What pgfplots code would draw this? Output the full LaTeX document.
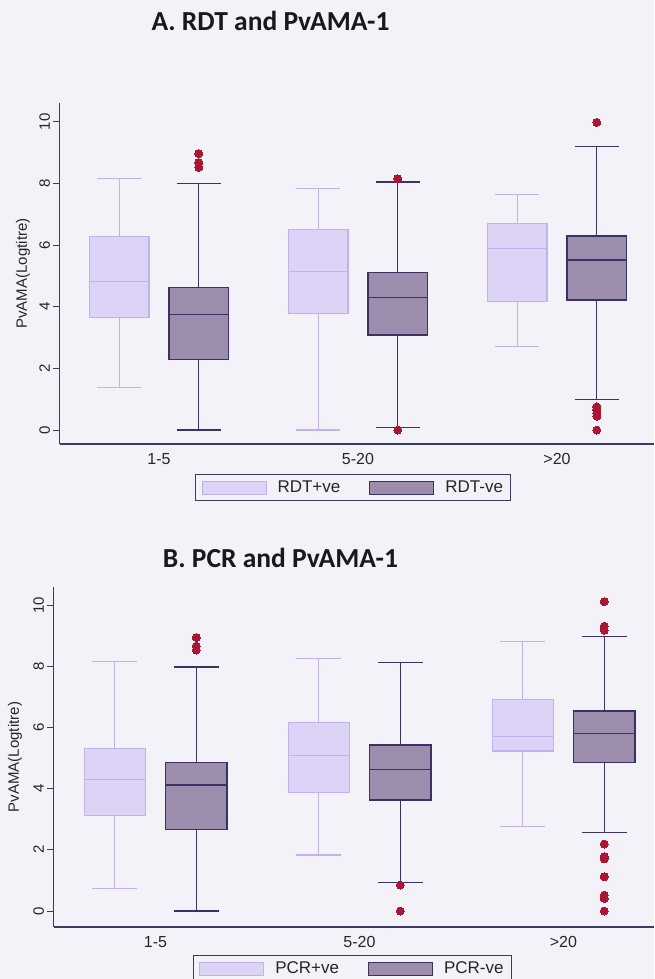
\documentclass[border=0pt]{standalone}
\usepackage{pgfplots}
\pgfplotsset{compat=1.18}
\usepgfplotslibrary{statistics}
\usepackage{fontspec}
\setmainfont{Liberation Sans}
\newfontfamily\titlefont{Carlito}
\definecolor{bg}{RGB}{243,242,248}
\definecolor{lfill}{RGB}{220,211,246}
\definecolor{ledge}{RGB}{192,178,234}
\definecolor{dfill}{RGB}{156,141,172}
\definecolor{dedge}{RGB}{58,50,98}
\definecolor{outl}{RGB}{170,22,52}
\definecolor{axc}{RGB}{60,58,105}
\pgfplotsset{
 lightbox/.style={forget plot, solid, draw=ledge, line width=1.1pt, fill=lfill, mark=none,
   boxplot/draw direction=y, boxplot/box extend=0.3, boxplot/whisker extend=0.22},
 darkbox/.style={forget plot, solid, draw=dedge, line width=1.4pt, fill=dfill, mark=*, mark size=4pt,
   mark options={draw=outl, fill=outl, line width=0pt},
   boxplot/draw direction=y, boxplot/box extend=0.3, boxplot/whisker extend=0.22},
 common/.style={scale only axis, axis lines*=left,
   axis line style={draw=axc, line width=1.1pt},
   xtick={1,2,3}, xtick style={draw=none},
   ytick={0,2,4,6,8,10}, ytick style={draw=axc, line width=0.9pt},
   tick align=outside, major tick length=6pt,
   yticklabel style={rotate=90, anchor=south, font=\fontsize{15}{15}\selectfont, text=black!85},
   xticklabel style={font=\fontsize{16}{16}\selectfont, text=black!85},
   /pgf/number format/assume math mode=true,
   ylabel={PvAMA(Logtitre)},
   ylabel style={font=\fontsize{15}{15}\selectfont, anchor=center, text=black!85},
   legend columns=2,
   legend cell align=left,
   legend style={draw=axc, line width=1pt, fill=bg, font=\fontsize{17}{17}\selectfont,
     inner xsep=6pt, inner ysep=4.5pt, anchor=north west, text=black!85,
     /tikz/every even column/.append style={column sep=27pt}},
 },
 lleg/.style={legend image code/.code={\draw[draw=ledge, fill=lfill, line width=1pt] (0pt,-6.5pt) rectangle (64pt,6.5pt);}},
 dleg/.style={legend image code/.code={\draw[draw=dedge, fill=dfill, line width=1pt] (0pt,-6.5pt) rectangle (64pt,6.5pt);}},
}
\begin{document}
\begin{tikzpicture}[x=1pt,y=1pt]
\useasboundingbox (0,0) rectangle (654,-979);
\fill[bg] (0,0) rectangle (654,-979);
\node[anchor=base, font=\titlefont\bfseries\fontsize{27.5}{27.5}\selectfont, text=black!90] at (270.5,-31) {A. RDT and PvAMA-1};
\node[anchor=base, font=\titlefont\bfseries\fontsize{27.5}{27.5}\selectfont, text=black!90] at (280.5,-567) {B. PCR and PvAMA-1};

% Panel A
\begin{axis}[common, at={(59.5pt,-444pt)}, anchor=south west,
  width=594.5pt, height=341pt,
  xmin=0.5, xmax=3.4875, ymin=-0.454, ymax=10.61,
  xticklabels={1-5,5-20,>20},
  ylabel style={at={(axis description cs:-0.0614,0.5)}},
  legend style={at={(0.228,-0.088)}}]
\addplot[lightbox, boxplot prepared={draw position=0.8, lower whisker=1.37, lower quartile=3.64, median=4.81, upper quartile=6.27, upper whisker=8.16}] coordinates {};
\addplot[darkbox, boxplot prepared={draw position=1.2, lower whisker=0, lower quartile=2.29, median=3.75, upper quartile=4.62, upper whisker=8.0}] table[row sep=\\, y index=0] {v\\ 8.52\\ 8.67\\ 8.97\\};
\addplot[lightbox, boxplot prepared={draw position=1.8, lower whisker=0, lower quartile=3.78, median=5.14, upper quartile=6.51, upper whisker=7.84}] coordinates {};
\addplot[darkbox, boxplot prepared={draw position=2.2, lower whisker=0.08, lower quartile=3.08, median=4.30, upper quartile=5.11, upper whisker=8.05}] table[row sep=\\, y index=0] {v\\ 8.15\\ 0\\};
\addplot[lightbox, boxplot prepared={draw position=2.8, lower whisker=2.72, lower quartile=4.18, median=5.89, upper quartile=6.70, upper whisker=7.64}] coordinates {};
\addplot[darkbox, boxplot prepared={draw position=3.2, lower whisker=0.99, lower quartile=4.22, median=5.51, upper quartile=6.29, upper whisker=9.19}] table[row sep=\\, y index=0] {v\\ 9.98\\ 0.75\\ 0.65\\ 0.55\\ 0.45\\ 0\\};
\addlegendimage{lleg}
\addlegendentry{\hspace{9pt}RDT+ve}
\addlegendimage{dleg}
\addlegendentry{\hspace{9pt}RDT-ve\hspace{5pt}}
\end{axis}

% Panel B
\begin{axis}[common, at={(53.5pt,-927pt)}, anchor=south west,
  width=600.5pt, height=340pt,
  xmin=0.5, xmax=3.444, ymin=-0.523, ymax=10.59,
  xticklabels={1-5,5-20,>20},
  ylabel style={at={(axis description cs:-0.064,0.5)}},
  legend style={at={(0.232,-0.082)}}]
\addplot[lightbox, boxplot prepared={draw position=0.8, lower whisker=0.74, lower quartile=3.12, median=4.30, upper quartile=5.32, upper whisker=8.15}] coordinates {};
\addplot[darkbox, boxplot prepared={draw position=1.2, lower whisker=0, lower quartile=2.67, median=4.12, upper quartile=4.86, upper whisker=7.98}] table[row sep=\\, y index=0] {v\\ 8.53\\ 8.66\\ 8.94\\};
\addplot[lightbox, boxplot prepared={draw position=1.8, lower whisker=1.83, lower quartile=3.88, median=5.08, upper quartile=6.17, upper whisker=8.24}] coordinates {};
\addplot[darkbox, boxplot prepared={draw position=2.2, lower whisker=0.93, lower quartile=3.63, median=4.63, upper quartile=5.42, upper whisker=8.13}] table[row sep=\\, y index=0] {v\\ 0.85\\ 0\\};
\addplot[lightbox, boxplot prepared={draw position=2.8, lower whisker=2.76, lower quartile=5.23, median=5.70, upper quartile=6.90, upper whisker=8.82}] coordinates {};
\addplot[darkbox, boxplot prepared={draw position=3.2, lower whisker=2.56, lower quartile=4.85, median=5.81, upper quartile=6.54, upper whisker=8.97}] table[row sep=\\, y index=0] {v\\ 10.11\\ 9.31\\ 9.18\\ 2.19\\ 1.78\\ 1.70\\ 1.12\\ 0.52\\ 0.41\\ 0\\};
\addlegendimage{lleg}
\addlegendentry{\hspace{9pt}PCR+ve}
\addlegendimage{dleg}
\addlegendentry{\hspace{9pt}PCR-ve\hspace{5pt}}
\end{axis}
\end{tikzpicture}
\end{document}
